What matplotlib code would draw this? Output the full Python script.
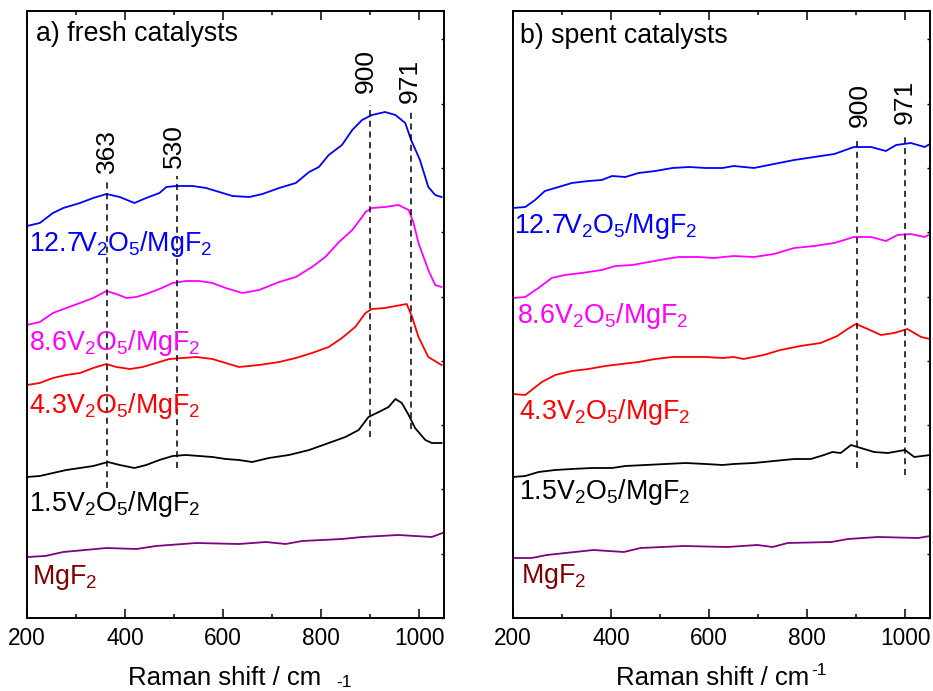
import matplotlib
matplotlib.use("Agg")
import matplotlib.pyplot as plt
from matplotlib.ticker import MultipleLocator

plt.rcParams['font.family'] = ['Liberation Sans', 'DejaVu Sans']
plt.rcParams['mathtext.default'] = 'regular'

# ---------------- data (Raman shift, intensity in a.u., stacked) ----------------
# fresh catalysts
x_f127 = [200,226,253,274,308,335,362,389,419,443,470,484,504,538,565,592,619,653,680,714,748,775,795,815,842,863,883,903,930,951,971,983,1001,1018,1032,1045]
y_f127 = [392,395,405,410,415,420,424,421,415,420,425,431,432,432,430,426,422,421,424,430,435,446,451,463,473,488,498,503,506,503,495,478,458,431,423,421]

x_f86 = [200,226,253,280,308,335,362,382,403,423,443,470,497,524,551,578,605,639,673,714,748,781,808,836,863,883,890,903,930,957,978,988,998,1018,1032,1045]
y_f86 = [293,296,305,310,315,320,327,324,320,321,324,329,335,337,337,335,330,325,328,336,341,351,361,376,388,401,406,410,411,413,408,395,375,348,333,331]

x_f43 = [200,226,253,280,308,335,362,382,410,436,463,490,517,545,578,605,632,673,714,748,781,815,842,869,890,903,930,951,974,985,998,1018,1045]
y_f43 = [233,235,240,243,245,250,254,251,249,251,255,259,260,261,259,255,251,253,256,260,265,271,280,291,305,309,310,312,314,301,281,261,253]

x_f15 = [200,226,253,280,308,335,365,389,419,443,470,497,524,551,578,605,632,659,693,734,775,815,849,876,896,917,937,951,964,978,991,1012,1025,1045]
y_f15 = [141,142,145,148,150,152,156,153,150,153,158,162,163,162,161,159,158,156,160,163,168,175,181,188,201,206,211,219,215,203,190,178,175,175]

x_fmg = [200,237,274,362,423,463,545,632,687,727,761,842,883,957,1025,1047]
y_fmg = [61,62,66,70,69,72,75,74,76,74,77,79,81,83,81,85]

# spent catalysts
x_s127 = [200,225,245,265,293,320,354,381,402,429,456,490,525,559,593,627,650,691,732,773,814,855,895,930,960,981,1011,1039,1050]
y_s127 = [410,411,418,427,431,435,437,438,442,441,445,447,450,451,450,450,452,450,454,458,461,464,471,471,467,473,475,471,474]

x_s86 = [200,225,252,279,306,340,381,409,443,477,511,538,579,609,650,691,732,773,814,855,895,930,960,984,1011,1039,1050]
y_s86 = [320,321,330,340,343,345,348,352,353,356,359,361,361,360,362,361,364,370,372,375,381,381,377,383,384,381,384]

x_s43 = [200,225,238,259,286,320,354,388,422,456,490,525,559,593,627,650,670,711,745,786,827,861,882,899,923,950,977,1004,1032,1050]
y_s43 = [224,223,228,236,243,247,249,252,254,256,259,261,261,261,260,261,259,263,268,272,275,282,289,294,289,283,285,289,281,279]

x_s15 = [200,225,252,286,320,361,402,429,470,511,552,593,627,650,691,732,773,807,834,851,868,889,909,936,964,999,1018,1050]
y_s15 = [141,142,146,148,149,150,150,152,153,154,155,154,153,154,155,157,159,159,163,166,165,173,170,166,165,168,161,163]

x_smg = [200,238,269,364,426,460,548,637,698,729,760,849,883,944,1026,1050]
y_smg = [60,60,63,68,66,70,72,71,73,71,75,76,79,81,80,82]

sample_labels = ['12.7V$_2$O$_5$/MgF$_2$', '8.6V$_2$O$_5$/MgF$_2$',
                 '4.3V$_2$O$_5$/MgF$_2$', '1.5V$_2$O$_5$/MgF$_2$', 'MgF$_2$']
line_colors = ['#0000FF', '#FF00FF', '#FF0000', '#000000', '#800080']
label_colors = ['#0000FF', '#FF00FF', '#FF0000', '#000000', '#800000']

fresh_curves = [(x_f127, y_f127), (x_f86, y_f86), (x_f43, y_f43), (x_f15, y_f15), (x_fmg, y_fmg)]
spent_curves = [(x_s127, y_s127), (x_s86, y_s86), (x_s43, y_s43), (x_s15, y_s15), (x_smg, y_smg)]

# label anchors (x, baseline y)
fresh_label_pos = [(205, 367), (205, 268), (205, 205), (205, 107), (211, 34)]
spent_label_pos = [(203, 385), (209, 295), (213, 199), (213, 119), (217, 35)]

# peak markers: (text, text x, text bottom y, line x, line y0, line y1)
fresh_peaks = [('363', 363, 445, 363, 130, 436), ('530', 500, 450, 505, 150, 442),
               ('900', 890, 525, 900, 181, 513), ('971', 981, 515, 983, 189, 508)]
spent_peaks = [('900', 907, 491, 901, 150, 481), ('971', 998, 494, 1000, 143, 483)]

titles = ['a) fresh catalysts', 'b) spent catalysts']
xlabel_main = 'Raman shift / cm'
xlabel_exp = '-1'

# ---------------- figure ----------------
fig = plt.figure(figsize=(9.33, 6.91), dpi=100)
axL = fig.add_axes([27/933, 73/691, 417/933, 607/691])
axR = fig.add_axes([513/933, 73/691, 417/933, 607/691])

panels = [(axL, fresh_curves, fresh_label_pos, fresh_peaks, titles[0], 0.022, 0.951),
          (axR, spent_curves, spent_label_pos, spent_peaks, titles[1], 0.017, 0.948)]

for ax, curves, lpos, peaks, title, tx, ty in panels:
    for (xs, ys), c in zip(curves, line_colors):
        ax.plot(xs, ys, color=c, lw=1.3)
    for (lx, ly), lab, c in zip(lpos, sample_labels, label_colors):
        ax.text(lx, ly, lab, color=c, fontsize=19.3, ha='left', va='baseline')
    for txt, tx_, ty_, lx, y0, y1 in peaks:
        ax.plot([lx, lx], [y0, y1], color='black', lw=1.1, ls=(0, (4, 3)))
        ax.text(tx_, ty_, txt, rotation=90, fontsize=19, ha='center', va='bottom')
    ax.text(tx, ty, title, transform=ax.transAxes, fontsize=19.3, ha='left', va='baseline')
    ax.set_xlim(200, 1050)
    ax.set_ylim(0, 607)
    ax.xaxis.set_major_locator(MultipleLocator(200))
    ax.xaxis.set_minor_locator(MultipleLocator(100))
    ax.yaxis.set_major_locator(MultipleLocator(64.3))
    ax.tick_params(axis='x', which='both', direction='in', top=True, bottom=True,
                   labelsize=16.3, pad=6.5, width=1.1)
    ax.tick_params(axis='x', which='major', length=6.5)
    ax.tick_params(axis='x', which='minor', length=3.2)
    ax.tick_params(axis='y', which='both', direction='in', left=False, right=True,
                   labelleft=False, labelright=False, length=2.2, width=1.0)
    for s in ax.spines.values():
        s.set_linewidth(1.4)

# left x label: exponent drawn small and slightly lowered, as in the reference
fig.text(128/933, 6/691, xlabel_main, fontsize=18.5, ha='left', va='baseline')
fig.text(336/933, 4/691, xlabel_exp, fontsize=12.5, ha='left', va='baseline')
# right x label: exponent raised
fig.text(616/933, 6/691, xlabel_main, fontsize=18.5, ha='left', va='baseline')
fig.text(811/933, 16/691, xlabel_exp, fontsize=12.5, ha='left', va='baseline')

fig.savefig('out.png', dpi=100)
